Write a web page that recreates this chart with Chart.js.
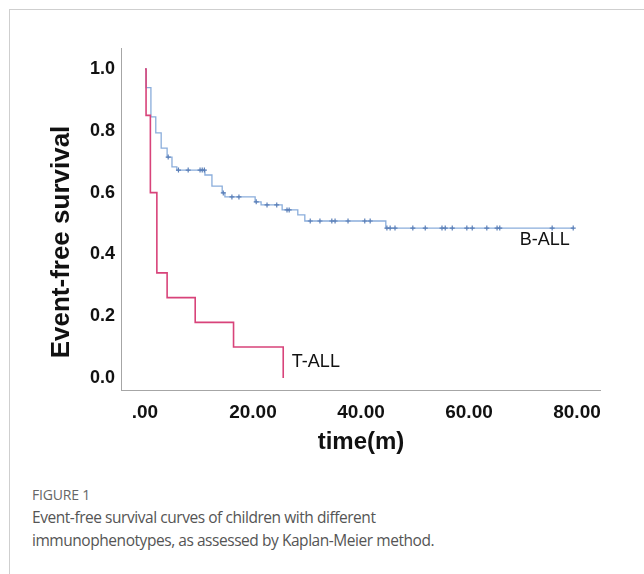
<!DOCTYPE html>
<html>
<head>
<meta charset="utf-8">
<script src="https://cdn.jsdelivr.net/npm/chart.js@4.4.1/dist/chart.umd.min.js"></script>
<style>
    html, body { margin: 0; padding: 0; background: #fff; }
    body { width: 644px; height: 574px; position: relative; overflow: hidden; }
    .frame { position: absolute; left: 9px; top: 9px; right: 0; bottom: 0; border-left: 1px solid #cfcfcf; border-top: 1px solid #cfcfcf; }
    #chartBox { position: absolute; left: 0; top: 0; width: 644px; height: 470px; }
    .fig-label { position: absolute; left: 32px; top: 485px; font-family: "Open Sans", sans-serif; font-size: 14px; color: #666; letter-spacing: -0.2px; }
    .fig-caption { position: absolute; left: 32px; top: 506px; font-family: "Open Sans", sans-serif; font-size: 15.5px; line-height: 23px; color: #555; font-weight: 400; letter-spacing: -0.45px; }
</style>
</head>
<body>
<div class="frame"></div>
<div id="chartBox"><canvas id="kmChart" width="644" height="470"></canvas></div>
<div class="fig-label">FIGURE 1</div>
<div class="fig-caption">Event-free survival curves of children with different<br>immunophenotypes, as assessed by Kaplan-Meier method.</div>

<script>
// Kaplan-Meier steps (time in months, survival fraction)
const tallTimes = [0, 0.2, 1.0, 2.2, 4.1, 9.3, 16.4, 25.6];
const tallValues = [1.0, 0.85, 0.6, 0.34, 0.26, 0.18, 0.10, 0.0];

const ballTimes = [0, 0.2, 1.1, 2.0, 3.0, 4.1, 5.0, 5.9, 11.1, 12.4, 14.3, 14.8, 20.4, 21.5, 25.4, 28.3, 29.6, 44.6, 79.4];
const ballValues = [1.0, 0.94, 0.845, 0.793, 0.744, 0.715, 0.683, 0.673, 0.657, 0.621, 0.599, 0.586, 0.570, 0.560, 0.544, 0.528, 0.508, 0.485, 0.485];

// censored cases (B-ALL)
const ballCensored = [4.3, 6.2, 8.0, 10.2, 10.6, 11.0, 14.5, 16.1, 17.4, 20.6, 22.6, 24.4, 26.3, 26.7,
    30.6, 32.4, 34.6, 35.2, 37.6, 40.7, 41.7, 44.8, 45.4, 46.3, 49.6, 51.9, 55.0, 55.6, 56.9,
    59.6, 60.6, 63.3, 65.2, 65.7, 75.4, 79.3];

const xTicks = [0, 20, 40, 60, 80];
const xTickLabels = [".00", "20.00", "40.00", "60.00", "80.00"];
const yTicks = [0, 0.2, 0.4, 0.6, 0.8, 1.0];

const seriesLabels = [
    { text: "B-ALL", x: 69.4, y: 0.447 },
    { text: "T-ALL", x: 27.2, y: 0.052 }
];

function stepValue(times, values, t) {
    let v = values[0];
    for (let i = 0; i < times.length; i++) {
        if (times[i] <= t) v = values[i];
    }
    return v;
}

const toPoints = (xs, ys) => xs.map((x, i) => ({ x: x, y: ys[i] }));

const BLUE = "#8aaddb";
const PINK = "#d8437a";
const AXIS = "#a6a6a6";
const FONT = "'Liberation Sans', Arial, sans-serif";

// axis titles + curve labels
const textPlugin = {
    id: "kmText",
    afterDraw(chart) {
        const ctx = chart.ctx;
        const xs = chart.scales.x, ys = chart.scales.y;
        ctx.save();
        ctx.fillStyle = "#111";
        ctx.font = "18px " + FONT;
        ctx.textBaseline = "middle";
        ctx.textAlign = "left";
        seriesLabels.forEach(l => {
            ctx.fillText(l.text, xs.getPixelForValue(l.x), ys.getPixelForValue(l.y));
        });

        ctx.font = "bold 24px " + FONT;
        ctx.textAlign = "center";
        ctx.fillText("time(m)", 361, 442);

        ctx.translate(62, 242);
        ctx.rotate(-Math.PI / 2);
        ctx.font = "bold 26px " + FONT;
        ctx.fillText("Event-free survival", 0, 0);
        ctx.restore();
    }
};

const ctx = document.getElementById("kmChart").getContext("2d");
new Chart(ctx, {
    type: "line",
    data: {
        datasets: [
            {
                label: "T-ALL",
                data: toPoints(tallTimes, tallValues),
                borderColor: PINK,
                borderWidth: 1.6,
                stepped: true,
                pointRadius: 0,
                fill: false
            },
            {
                label: "B-ALL censored",
                data: ballCensored.map(t => ({ x: t, y: stepValue(ballTimes, ballValues, t) })),
                showLine: false,
                pointStyle: "cross",
                pointRadius: 2.5,
                pointBorderWidth: 1.2,
                pointBorderColor: "#5a7fb8",
                borderColor: "#5a7fb8"
            },
            {
                label: "B-ALL",
                data: toPoints(ballTimes, ballValues),
                borderColor: BLUE,
                borderWidth: 1.3,
                stepped: true,
                pointRadius: 0,
                fill: false
            }
        ]
    },
    options: {
        responsive: false,
        devicePixelRatio: 1,
        animation: false,
        layout: { padding: { left: 0, top: 48, right: 44, bottom: 0 } },
        plugins: {
            legend: { display: false },
            tooltip: { enabled: false }
        },
        scales: {
            x: {
                type: "linear",
                min: -4.44,
                max: 84.26,
                grid: { display: false, drawTicks: false },
                border: { display: true, color: AXIS, width: 1 },
                afterBuildTicks: axis => { axis.ticks = xTicks.map(v => ({ value: v })); },
                afterFit: axis => { axis.height = 80; },
                ticks: {
                    padding: 11,
                    color: "#111",
                    font: { family: FONT, size: 19, weight: "bold" },
                    callback: (v, i) => xTickLabels[i]
                }
            },
            y: {
                type: "linear",
                min: -0.039,
                max: 1.068,
                grid: { display: false, drawTicks: false },
                border: { display: true, color: AXIS, width: 1 },
                afterBuildTicks: axis => { axis.ticks = yTicks.map(v => ({ value: v })); },
                afterFit: axis => { axis.width = 121; },
                ticks: {
                    padding: 6,
                    color: "#111",
                    font: { family: FONT, size: 18, weight: "bold" },
                    callback: v => v.toFixed(1)
                }
            }
        }
    },
    plugins: [textPlugin]
});
</script>
</body>
</html>
